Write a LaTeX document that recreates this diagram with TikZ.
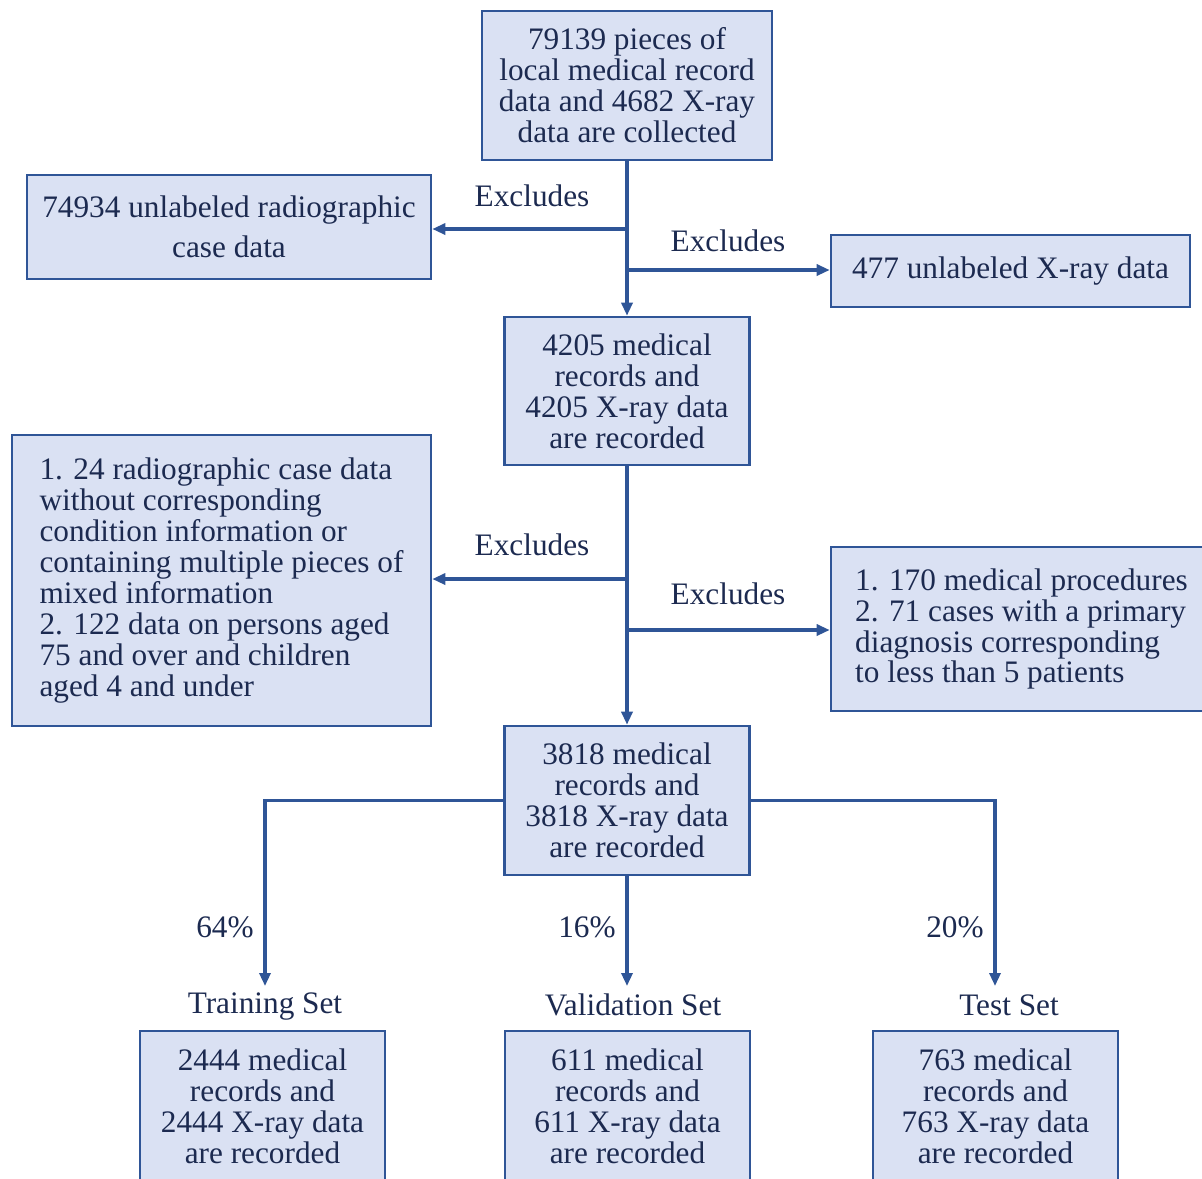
\documentclass[tikz,border=0pt]{standalone}
\usepackage{fontspec}
\setmainfont{Liberation Serif}
\usetikzlibrary{arrows.meta}
\definecolor{boxblue}{HTML}{2F5597}
\definecolor{boxfill}{HTML}{DAE1F3}
\definecolor{txtblue}{HTML}{1C2A50}
\begin{document}
\begin{tikzpicture}[x=0.02cm,y=-0.02cm,
    every node/.style={text=txtblue,font=\fontsize{17.8}{17.6}\selectfont},
    fbox/.style={draw=boxblue,fill=boxfill,line width=1.5pt,inner sep=0pt,align=center},
    link/.style={draw=boxblue,line width=1.8pt},
    arr/.style={link,-{Triangle[length=0.26cm,width=0.22cm]}}] % ------ Data flow -----
    \useasboundingbox (0,0) rectangle (1202,1178);
    \clip (0,0) rectangle (1202,1178);
    \node[fbox,minimum width=5.8cm,minimum height=2.98cm] (collect) at (627,85.5)
      {79139 pieces of\\local medical record\\data and 4682 X-ray\\data are collected};
    \node[fbox,minimum width=8.08cm,minimum height=2.08cm] (unlabcase) at (229,227)
      {74934 unlabeled radiographic\\[5pt]case data};
    \node[fbox,minimum width=7.18cm,minimum height=1.44cm] (unlabxray) at (1010.5,271)
      {477 unlabeled X-ray data};
    \node[fbox,minimum width=4.9cm,minimum height=2.96cm] (rec1) at (627,391)
      {4205 medical\\records and\\4205 X-ray data\\are recorded};
    \node[fbox,align=left,minimum width=8.38cm,minimum height=5.82cm] (excl1) at (221.5,580.5)
      {1. 24 radiographic case data\\without corresponding\\condition information or\\containing multiple pieces of\\mixed information\\2. 122 data on persons aged\\75 and over and children\\aged 4 and under};
    \node[fbox,align=left,minimum width=7.62cm,minimum height=3.28cm] (excl2) at (1021.5,629)
      {1. 170 medical procedures\\2. 71 cases with a primary\\diagnosis corresponding\\to less than 5 patients};
    \node[fbox,minimum width=4.9cm,minimum height=2.98cm] (rec2) at (627,800.5)
      {3818 medical\\records and\\3818 X-ray data\\are recorded};
    \node[fbox,minimum width=4.9cm,minimum height=3cm] (train) at (262.5,1106)
      {2444 medical\\records and\\2444 X-ray data\\are recorded};
    \node[fbox,minimum width=4.9cm,minimum height=3cm] (valid) at (627.5,1106)
      {611 medical\\records and\\611 X-ray data\\are recorded};
    \node[fbox,minimum width=4.9cm,minimum height=3cm] (test) at (995.5,1106)
      {763 medical\\records and\\763 X-ray data\\are recorded};
    % labels
    \node (ex1) at (532,196) {Excludes};
    \node (ex2) at (728,241) {Excludes};
    \node (ex3) at (532,545) {Excludes};
    \node (ex4) at (728,594) {Excludes};
    \node (p64) at (225,927) {64\%};
    \node (p16) at (587,927) {16\%};
    \node (p20) at (955,927) {20\%};
    \node (lbltrain) at (265,1006) {Training Set};
    \node (lblvalid) at (633,1005) {Validation Set};
    \node (lbltest) at (1009,1005) {Test Set};
    % connectors
    \coordinate (j1) at (627,229);
    \coordinate (j2) at (627,270);
    \coordinate (j3) at (627,579);
    \coordinate (j4) at (627,630);
    \coordinate (s1) at (265,986);
    \coordinate (s2) at (627,986);
    \coordinate (s3) at (995,986);
    \draw [arr] (collect.south) -- (rec1.north);
    \draw [arr] (j1) -- (j1 -| unlabcase.east);
    \draw [arr] (j2) -- (j2 -| unlabxray.west);
    \draw [arr] (rec1.south) -- (rec2.north);
    \draw [arr] (j3) -- (j3 -| excl1.east);
    \draw [arr] (j4) -- (j4 -| excl2.west);
    \draw [arr] (rec2.west) -| (s1);
    \draw [arr] (rec2.south) -- (s2);
    \draw [arr] (rec2.east) -| (s3);
\end{tikzpicture}
\end{document}
